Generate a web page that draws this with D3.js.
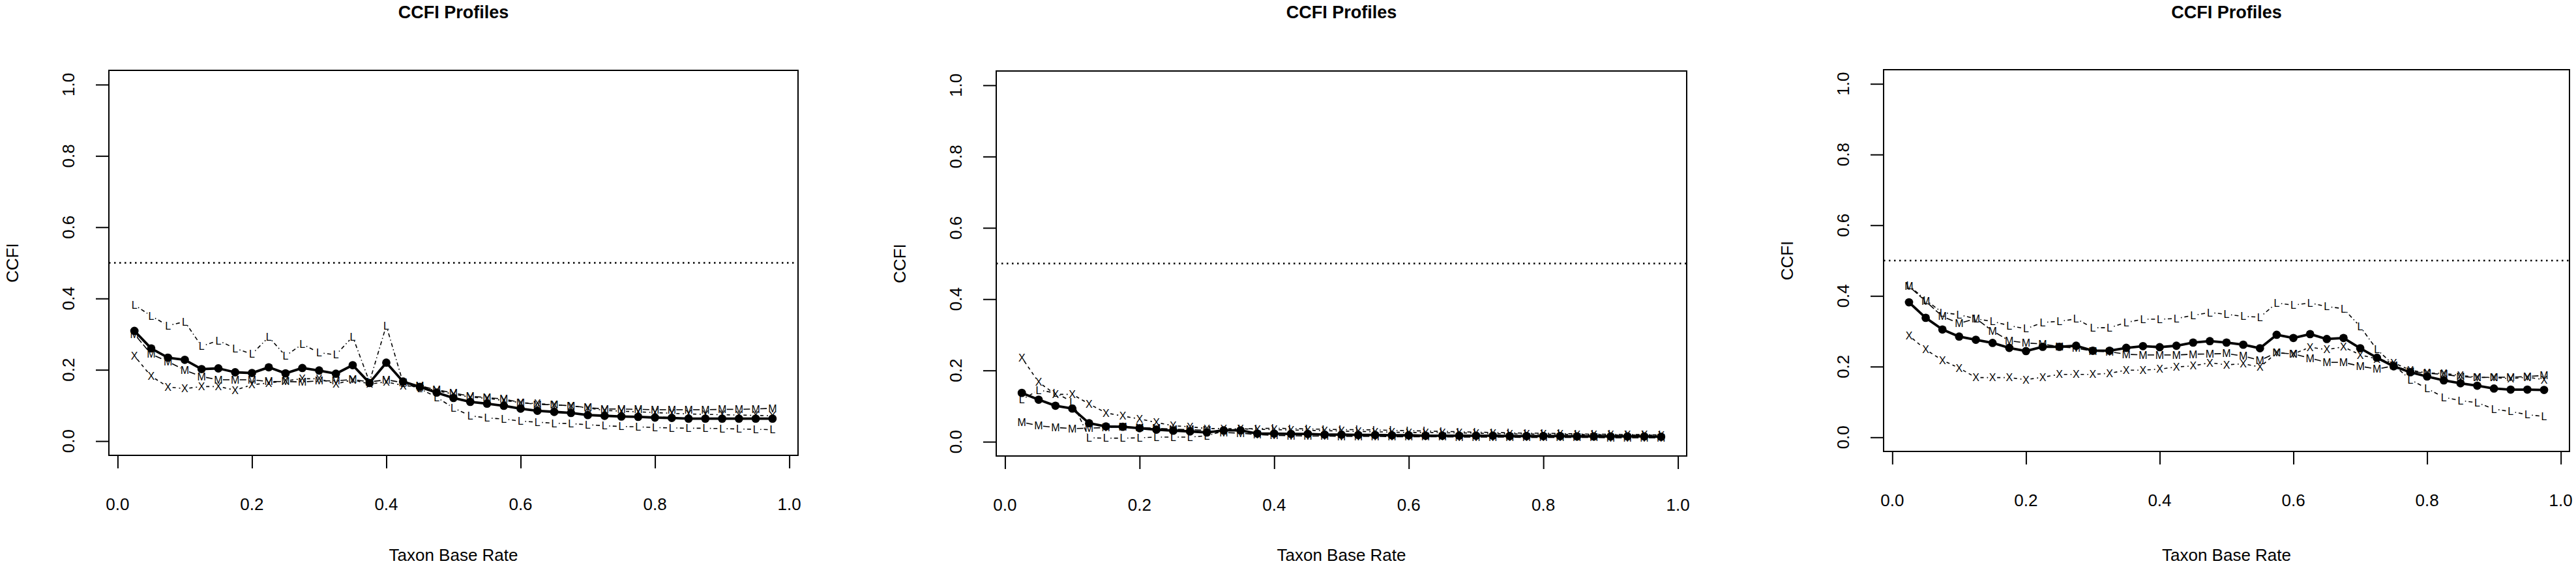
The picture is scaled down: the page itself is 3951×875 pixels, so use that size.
<!DOCTYPE html>
<html>
<head>
<meta charset="utf-8">
<script src="https://cdn.jsdelivr.net/npm/d3@7"></script>
<style>
body { margin: 0; background: #fff; }
text { font-family: "Liberation Sans", Arial, sans-serif; fill: #000; }
</style>
</head>
<body>
<script>
// taxon base rates (x values shared by all three panels)
var baseRate = [0.025, 0.05, 0.075, 0.1, 0.125, 0.15, 0.175, 0.2, 0.225, 0.25,
	0.275, 0.3, 0.325, 0.35, 0.375, 0.4, 0.425, 0.45, 0.475, 0.5,
	0.525, 0.55, 0.575, 0.6, 0.625, 0.65, 0.675, 0.7, 0.725, 0.75,
	0.775, 0.8, 0.825, 0.85, 0.875, 0.9, 0.925, 0.95, 0.975];

var xTicks = [0, 0.2, 0.4, 0.6, 0.8, 1.0];
var yTicks = [0, 0.2, 0.4, 0.6, 0.8, 1.0];
var cutLine = 0.5;

// panel 1
var p1Mean = [0.309, 0.260, 0.234, 0.228, 0.202, 0.204, 0.193, 0.191, 0.207, 0.190, 0.205, 0.198, 0.189,
	0.213, 0.163, 0.220, 0.167, 0.152, 0.136, 0.121, 0.110, 0.105, 0.099, 0.091, 0.085, 0.082, 0.079, 0.073,
	0.071, 0.069, 0.068, 0.066, 0.065, 0.063, 0.063, 0.063, 0.063, 0.063, 0.063];
var p1L = [0.382, 0.351, 0.324, 0.335, 0.266, 0.282, 0.260, 0.244, 0.292, 0.239, 0.272, 0.248, 0.242,
	0.293, 0.166, 0.324, 0.163, 0.147, 0.123, 0.093, 0.071, 0.065, 0.062, 0.056, 0.053, 0.050, 0.049, 0.046,
	0.043, 0.041, 0.040, 0.038, 0.037, 0.036, 0.036, 0.035, 0.034, 0.033, 0.032];
var p1M = [0.300, 0.244, 0.223, 0.199, 0.181, 0.172, 0.172, 0.172, 0.167, 0.167, 0.166, 0.169, 0.169,
	0.173, 0.166, 0.172, 0.164, 0.155, 0.144, 0.135, 0.126, 0.122, 0.118, 0.108, 0.103, 0.102, 0.099, 0.094,
	0.090, 0.090, 0.089, 0.088, 0.088, 0.088, 0.088, 0.089, 0.089, 0.090, 0.092];
var p1X = [0.239, 0.182, 0.152, 0.147, 0.153, 0.153, 0.143, 0.158, 0.163, 0.169, 0.175, 0.175, 0.160,
	0.172, 0.160, 0.166, 0.156, 0.152, 0.141, 0.132, 0.123, 0.120, 0.114, 0.108, 0.105, 0.102, 0.099, 0.093,
	0.086, 0.084, 0.082, 0.080, 0.078, 0.076, 0.075, 0.074, 0.073, 0.072, 0.071];

// panel 2
var p2Mean = [0.137, 0.118, 0.101, 0.093, 0.052, 0.043, 0.042, 0.038, 0.034, 0.031, 0.029, 0.026, 0.032,
	0.032, 0.023, 0.023, 0.022, 0.022, 0.020, 0.020, 0.019, 0.019, 0.018, 0.018, 0.017, 0.017, 0.017, 0.017,
	0.017, 0.016, 0.016, 0.016, 0.016, 0.015, 0.015, 0.015, 0.015, 0.015, 0.014];
var p2L = [0.118, 0.145, 0.137, 0.112, 0.011, 0.010, 0.010, 0.011, 0.013, 0.013, 0.013, 0.017, 0.030,
	0.036, 0.037, 0.038, 0.037, 0.036, 0.035, 0.034, 0.034, 0.033, 0.032, 0.031, 0.030, 0.029, 0.028, 0.027,
	0.026, 0.025, 0.024, 0.024, 0.023, 0.022, 0.021, 0.021, 0.020, 0.020, 0.019];
var p2M = [0.055, 0.045, 0.040, 0.037, 0.038, 0.040, 0.042, 0.040, 0.038, 0.035, 0.034, 0.032, 0.026,
	0.024, 0.020, 0.018, 0.017, 0.016, 0.016, 0.015, 0.015, 0.015, 0.014, 0.014, 0.014, 0.014, 0.013, 0.013,
	0.013, 0.013, 0.012, 0.012, 0.012, 0.012, 0.012, 0.011, 0.011, 0.011, 0.011];
var p2X = [0.236, 0.167, 0.133, 0.133, 0.106, 0.081, 0.072, 0.064, 0.054, 0.045, 0.042, 0.037, 0.037,
	0.036, 0.035, 0.034, 0.033, 0.032, 0.031, 0.030, 0.029, 0.028, 0.027, 0.026, 0.026, 0.025, 0.025, 0.024,
	0.023, 0.022, 0.022, 0.021, 0.021, 0.020, 0.020, 0.019, 0.019, 0.019, 0.018];

// panel 3
var p3Mean = [0.382, 0.338, 0.305, 0.285, 0.276, 0.267, 0.253, 0.244, 0.256, 0.256, 0.259, 0.245, 0.245, 0.253,
	0.258, 0.255, 0.259, 0.268, 0.272, 0.268, 0.262, 0.252, 0.290, 0.281, 0.292, 0.278, 0.281, 0.252,
	0.225, 0.201, 0.184, 0.172, 0.161, 0.153, 0.146, 0.138, 0.135, 0.135, 0.134];
var p3L = [0.430, 0.388, 0.353, 0.347, 0.335, 0.328, 0.316, 0.307, 0.325, 0.328, 0.335, 0.310, 0.310, 0.325,
	0.334, 0.334, 0.336, 0.345, 0.353, 0.348, 0.342, 0.340, 0.380, 0.374, 0.380, 0.370, 0.364, 0.313,
	0.248, 0.205, 0.163, 0.138, 0.113, 0.104, 0.098, 0.080, 0.073, 0.064, 0.059];
var p3M = [0.427, 0.385, 0.342, 0.322, 0.336, 0.301, 0.273, 0.267, 0.264, 0.256, 0.252, 0.244, 0.242, 0.235,
	0.233, 0.233, 0.233, 0.235, 0.236, 0.237, 0.230, 0.218, 0.239, 0.236, 0.224, 0.212, 0.212, 0.201,
	0.193, 0.202, 0.187, 0.181, 0.178, 0.172, 0.169, 0.170, 0.170, 0.172, 0.175];
var p3X = [0.288, 0.248, 0.218, 0.196, 0.169, 0.169, 0.169, 0.163, 0.170, 0.178, 0.178, 0.178, 0.181, 0.190,
	0.190, 0.193, 0.199, 0.202, 0.211, 0.205, 0.208, 0.199, 0.239, 0.236, 0.255, 0.248, 0.256, 0.233,
	0.222, 0.211, 0.190, 0.182, 0.181, 0.175, 0.170, 0.169, 0.166, 0.170, 0.163];

var panelData = [
	{ mean: p1Mean, L: p1L, M: p1M, X: p1X },
	{ mean: p2Mean, L: p2L, M: p2M, X: p2X },
	{ mean: p3Mean, L: p3L, M: p3M, X: p3X }
];

// plot boxes, in pixels
var boxes = [
	{ left: 167, right: 1224, top: 108, bottom: 699 },
	{ left: 1528, right: 2587, top: 109, bottom: 700 },
	{ left: 2889, right: 3941, top: 107, bottom: 693 }
];

var tickLen = 20;

var canvas = d3.select("body").append("svg")
	.attr("width", 3951)
	.attr("height", 875);

boxes.forEach(function (b, i) {
	drawPanel(b, panelData[i]);
});

function drawPanel(b, dat) {
	var x = d3.scaleLinear().domain([-0.013, 1.013]).range([b.left, b.right]);
	var y = d3.scaleLinear().domain([-0.04, 1.04]).range([b.bottom, b.top]);
	var g = canvas.append("g");

	// ticks (axis line only from first to last tick, like R)
	var xAxis = g.append("g")
		.attr("transform", "translate(0," + b.bottom + ")")
		.call(d3.axisBottom(x).tickValues(xTicks).tickSize(tickLen).tickFormat(""));
	xAxis.select(".domain").remove();
	xAxis.selectAll("line").attr("stroke-width", 2);
	g.append("line")
		.attr("x1", x(0)).attr("x2", x(1))
		.attr("y1", b.bottom).attr("y2", b.bottom)
		.attr("stroke", "#000").attr("stroke-width", 2);

	var yAxis = g.append("g")
		.attr("transform", "translate(" + b.left + ",0)")
		.call(d3.axisLeft(y).tickValues(yTicks).tickSize(tickLen).tickFormat(""));
	yAxis.select(".domain").remove();
	yAxis.selectAll("line").attr("stroke-width", 2);

	g.selectAll(".xlab").data(xTicks).enter().append("text")
		.attr("x", function (d) { return x(d); })
		.attr("y", b.bottom + 75)
		.attr("dy", "0.35em")
		.attr("text-anchor", "middle")
		.style("font-size", "26px")
		.text(function (d) { return d.toFixed(1); });

	g.selectAll(".ylab").data(yTicks).enter().append("text")
		.attr("transform", function (d) { return "translate(" + (b.left - 62) + "," + y(d) + ") rotate(-90)"; })
		.attr("dy", "0.35em")
		.attr("text-anchor", "middle")
		.style("font-size", "26px")
		.text(function (d) { return d.toFixed(1); });

	g.append("text")
		.attr("x", (b.left + b.right) / 2)
		.attr("y", 19)
		.attr("dy", "0.35em")
		.attr("text-anchor", "middle")
		.style("font-size", "27px")
		.style("font-weight", "bold")
		.text("CCFI Profiles");

	g.append("text")
		.attr("x", (b.left + b.right) / 2)
		.attr("y", 852)
		.attr("dy", "0.35em")
		.attr("text-anchor", "middle")
		.style("font-size", "26px")
		.text("Taxon Base Rate");

	g.append("text")
		.attr("transform", "translate(" + (b.left - 148) + "," + ((b.top + b.bottom) / 2) + ") rotate(-90)")
		.attr("dy", "0.35em")
		.attr("text-anchor", "middle")
		.style("font-size", "26px")
		.text("CCFI");

	// reference line at 0.5
	g.append("line")
		.attr("x1", b.left).attr("x2", b.right)
		.attr("y1", y(cutLine)).attr("y2", y(cutLine))
		.attr("stroke", "#000").attr("stroke-width", 2.4)
		.attr("stroke-dasharray", "2.5,5.5");

	// character series, type = "b"
	drawSeries(g, x, y, dat.L, "L", "1.5,4,6,4");
	drawSeries(g, x, y, dat.M, "M", "10,4");
	drawSeries(g, x, y, dat.X, "X", "5,5");

	// mean profile
	var pts = baseRate.map(function (r, i) { return [x(r), y(dat.mean[i])]; });
	g.append("path")
		.attr("d", d3.line()(pts))
		.attr("fill", "none")
		.attr("stroke", "#000")
		.attr("stroke-width", 3.8)
		.attr("stroke-linejoin", "round");
	g.selectAll(".dot").data(dat.mean).enter().append("circle")
		.attr("cx", function (d, i) { return x(baseRate[i]); })
		.attr("cy", function (d) { return y(d); })
		.attr("r", 6.4)
		.attr("fill", "#000");

	// box on top
	g.append("rect")
		.attr("x", b.left).attr("y", b.top)
		.attr("width", b.right - b.left).attr("height", b.bottom - b.top)
		.attr("fill", "none").attr("stroke", "#000").attr("stroke-width", 2);
}

function drawSeries(g, x, y, vals, ch, dash) {
	var gap = 7;
	var segs = [];
	for (var i = 0; i < vals.length - 1; i++) {
		var x1 = x(baseRate[i]), y1 = y(vals[i]);
		var x2 = x(baseRate[i + 1]), y2 = y(vals[i + 1]);
		var dx = x2 - x1, dy = y2 - y1;
		var len = Math.sqrt(dx * dx + dy * dy);
		if (len > 2 * gap) {
			segs.push([x1 + dx * gap / len, y1 + dy * gap / len, x2 - dx * gap / len, y2 - dy * gap / len]);
		}
	}
	g.selectAll(null).data(segs).enter().append("line")
		.attr("x1", function (s) { return s[0]; })
		.attr("y1", function (s) { return s[1]; })
		.attr("x2", function (s) { return s[2]; })
		.attr("y2", function (s) { return s[3]; })
		.attr("stroke", "#000")
		.attr("stroke-width", 1.6)
		.attr("stroke-dasharray", dash);
	g.selectAll(null).data(vals).enter().append("text")
		.attr("x", function (d, i) { return x(baseRate[i]); })
		.attr("y", function (d) { return y(d); })
		.attr("dy", "0.36em")
		.attr("text-anchor", "middle")
		.style("font-size", "16px")
		.text(ch);
}
</script>
</body>
</html>
